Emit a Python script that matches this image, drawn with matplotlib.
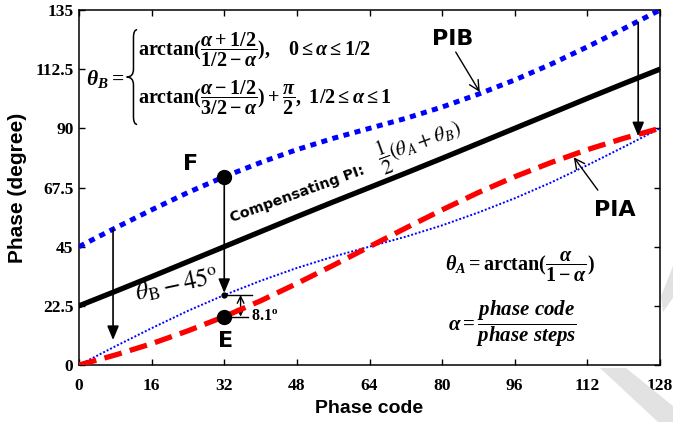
import numpy as np
import matplotlib
matplotlib.use("Agg")
import matplotlib.pyplot as plt
from matplotlib.path import Path
from matplotlib.patches import PathPatch, Polygon

plt.rcParams["mathtext.fontset"] = "custom"
plt.rcParams["mathtext.rm"] = "Liberation Serif:bold"
plt.rcParams["mathtext.it"] = "Liberation Serif:italic:bold"
plt.rcParams["mathtext.bf"] = "Liberation Serif:bold"

# phase code axis, sampled every 8 codes (128 phase steps)
code = [0, 8, 16, 24, 32, 40, 48, 56, 64, 72, 80, 88, 96, 104, 112, 120, 128]
# PIB output phase
pib = [45.0, 52.1, 59.0, 65.6, 71.6, 77.0, 81.9, 86.2, 90.0,
       93.8, 98.1, 103.0, 108.4, 114.4, 121.0, 127.9, 135.0]
# PIA output phase
pia = [0.0, 3.8, 8.1, 13.0, 18.4, 24.4, 31.0, 37.9, 45.0,
       52.1, 59.0, 65.6, 71.6, 77.0, 81.9, 86.2, 90.0]
# compensating PI, (thA + thB) / 2
comp = [22.5, 28.0, 33.6, 39.3, 45.0, 50.7, 56.4, 62.0, 67.5,
        73.0, 78.6, 84.3, 90.0, 95.7, 101.4, 107.0, 112.5]
# PIB shifted down by 45 deg
pib_shift = [0.0, 7.1, 14.0, 20.6, 26.6, 32.0, 36.9, 41.2, 45.0,
             48.8, 53.1, 58.0, 63.4, 69.4, 76.0, 82.9, 90.0]

xticks = [0, 16, 32, 48, 64, 80, 96, 112, 128]
yticks = [0, 22.5, 45, 67.5, 90, 112.5, 135]
ytick_labels = ["0", "22.5", "45", "67.5", "90", "112.5", "135"]

# marked points at code 32
code_f, phase_f = 32, 71.6
code_e, phase_e = 32, 18.4
phase_mid = 26.6
gap_label = "8.1"

W, H = 673, 422
fig = plt.figure(figsize=(W / 100, H / 100), dpi=100)

# grey strokes at the page edge
wm = "#e2e2e2"
for pts in ([(600, 368), (626, 368), (673, 406), (673, 422), (658, 422)],
            [(661, 296), (673, 266), (673, 298), (663, 312)]):
    fig.patches.append(Polygon([(x / W, 1 - y / H) for x, y in pts],
                               closed=True, transform=fig.transFigure,
                               facecolor=wm, edgecolor="none", zorder=0))

ax = fig.add_axes([79 / W, 57 / H, 581 / W, 355 / H])

ax.plot(code, pib, color="#0000ff", lw=3.6, ls=(0, (1.2, 1.1)), zorder=3)
ax.plot(code, comp, color="black", lw=3.8, zorder=3)
ax.plot(code, pib_shift, color="#0000ff", lw=1.4, ls=(0, (1, 1)), zorder=3)
ax.plot(code, pia, color="#ff0000", lw=3.8, ls=(0, (3.4, 1.6)), zorder=4)

ax.set_xlim(0, 128)
ax.set_ylim(0, 135)
ax.set_xticks(xticks)
ax.set_yticks(yticks)
ax.set_yticklabels(ytick_labels)
ax.tick_params(direction="in", top=True, right=True, length=4, width=1)
ax.tick_params(axis="x", pad=9)
ax.tick_params(axis="y", pad=4)
for lab in ax.get_xticklabels() + ax.get_yticklabels():
    lab.set_fontfamily("Liberation Serif")
    lab.set_fontweight("bold")
    lab.set_fontsize(12.5)
for sp in ax.spines.values():
    sp.set_linewidth(1.1)

ax.set_xlabel("Phase code", family="Liberation Sans", weight="bold",
              fontsize=14, labelpad=5)
ax.set_ylabel("Phase (degree)", family="Liberation Sans", weight="bold",
              fontsize=15, labelpad=6)

# F / E points and the arrows between them
ax.plot([code_f], [phase_f], "o", color="black", ms=10, zorder=6)
ax.plot([code_e], [phase_e], "o", color="black", ms=10, zorder=6)
ax.plot([code_f], [phase_mid], "o", color="black", ms=3.5, zorder=6)
head = "-|>,head_length=0.6,head_width=0.25"
ax.annotate("", xy=(code_f, phase_mid + 0.8), xytext=(code_f, phase_f),
            arrowprops=dict(arrowstyle=head, color="black", lw=1.2,
                            mutation_scale=14, shrinkA=0, shrinkB=0), zorder=5)
ax.annotate("", xy=(7.5, 9.5), xytext=(7.5, 51.7),
            arrowprops=dict(arrowstyle=head, color="black", lw=1.2,
                            mutation_scale=14, shrinkA=0, shrinkB=0), zorder=5)
ax.annotate("", xy=(123.2, 87.0), xytext=(123.2, 130.3),
            arrowprops=dict(arrowstyle=head, color="black", lw=1.2,
                            mutation_scale=14, shrinkA=0, shrinkB=0), zorder=5)

ax.text(24.5, 76.5, "F", family="DejaVu Sans", weight="bold", fontsize=16,
        ha="center", va="center")
ax.text(32.3, 9.0, "E", family="DejaVu Sans", weight="bold", fontsize=16,
        ha="center", va="center")

# 8.1 degree gap marker
ax.plot([code_f, 38.2], [phase_mid, phase_mid], color="black", lw=1)
ax.plot([code_e, 37.2], [phase_e, phase_e], color="black", lw=1)
ax.annotate("", xy=(35.6, phase_e), xytext=(35.6, phase_mid),
            arrowprops=dict(arrowstyle="<->,head_length=0.4,head_width=0.2",
                            color="black", lw=1, mutation_scale=12,
                            shrinkA=0, shrinkB=0))
ax.text(38.0, 18.6, r"$%s^{\rm o}$" % gap_label, fontsize=11.5,
        ha="left", va="center")

ax.text(21.5, 30.5, r"$\theta_{\rm B}-45^{\rm o}$", fontsize=18,
        math_fontfamily="stix", rotation=12, ha="center", va="center")

# curve labels
ax.text(33.7, 54.4, "Compensating PI:", family="DejaVu Sans", weight="bold",
        fontsize=10.3, rotation=20, rotation_mode="anchor",
        ha="left", va="baseline")
ax.text(66.0, 78.0, r"$\genfrac{}{}{0.8}{0}{1}{2}(\theta_A+\theta_B)$",
        fontsize=15, math_fontfamily="stix", rotation=20,
        rotation_mode="anchor", ha="left", va="center")

ax.text(82.3, 124.0, "PIB", family="DejaVu Sans", weight="bold",
        fontsize=16, ha="center", va="center")
ax.annotate("", xy=(88.3, 103.8), xytext=(83.0, 119.0),
            arrowprops=dict(arrowstyle="->,head_length=0.6,head_width=0.3",
                            color="black", lw=1, mutation_scale=12,
                            shrinkA=0, shrinkB=0))
ax.text(118.0, 59.0, "PIA", family="DejaVu Sans", weight="bold",
        fontsize=16, ha="center", va="center")
ax.annotate("", xy=(109.0, 79.0), xytext=(114.3, 66.5),
            arrowprops=dict(arrowstyle="->,head_length=0.6,head_width=0.3",
                            color="black", lw=1, mutation_scale=12,
                            shrinkA=0, shrinkB=0))

# piecewise definition of theta_B with a left brace
ax.text(9.9, 108.6, r"$\theta_B=$", fontsize=15.5, ha="right", va="center")
xr, xm, xl = 12.8, 12.0, 10.5
yt, yb, ym, d = 127.5, 91.5, 109.5, 3.0
verts = [(xr, yt), (xm, yt), (xm, yt - d), (xm, ym + d), (xm, ym), (xl, ym),
         (xm, ym), (xm, ym - d), (xm, yb + d), (xm, yb), (xr, yb)]
codes = [Path.MOVETO, Path.CURVE3, Path.CURVE3, Path.LINETO, Path.CURVE3,
         Path.CURVE3, Path.CURVE3, Path.CURVE3, Path.LINETO, Path.CURVE3,
         Path.CURVE3]
ax.add_patch(PathPatch(Path(verts, codes), facecolor="none",
                       edgecolor="black", lw=1.1))
ax.text(13.1, 119.8,
        r"$\mathrm{arctan}(\dfrac{\alpha+1/2}{1/2-\alpha}),\ \ \ 0\leq\alpha\leq1/2$",
        fontsize=14.5, ha="left", va="center")
ax.text(13.1, 101.5,
        r"$\mathrm{arctan}(\dfrac{\alpha-1/2}{3/2-\alpha})+\dfrac{\pi}{2},\ 1/2\leq\alpha\leq1$",
        fontsize=14.5, ha="left", va="center")

ax.text(80.6, 37.3, r"$\theta_A=\mathrm{arctan}(\dfrac{\alpha}{1-\alpha})$",
        fontsize=14.5, ha="left", va="center")
ax.text(81.3, 15.5,
        r"$\alpha=\dfrac{\mathit{phase\ code}}{\mathit{phase\ steps}}$",
        fontsize=15, ha="left", va="center")

fig.savefig("out.png", dpi=100)
